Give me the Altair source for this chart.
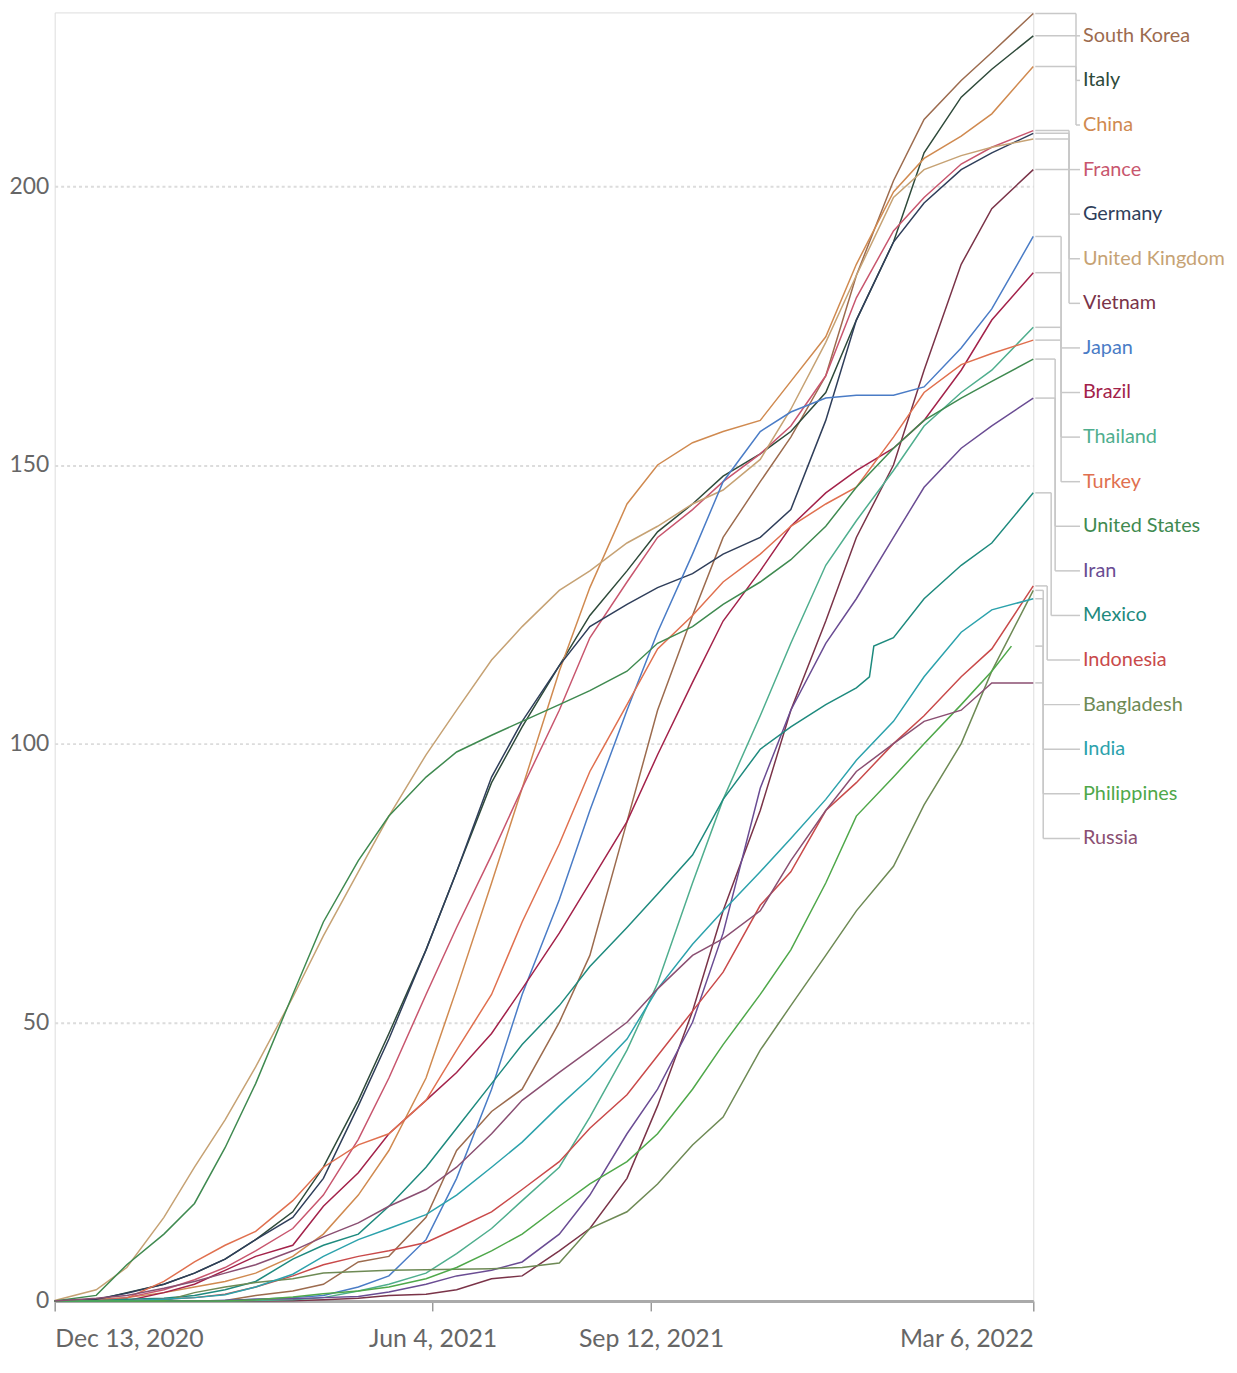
import altair as alt
import pandas as pd

# ---------------- data (doses per 100 people) ----------------
dates = ["2020-12-13", "2021-01-01", "2021-01-15", "2021-02-01", "2021-02-15", "2021-03-01",
         "2021-03-15", "2021-04-01", "2021-04-15", "2021-05-01", "2021-05-15", "2021-06-01",
         "2021-06-15", "2021-07-01", "2021-07-15", "2021-08-01", "2021-08-15", "2021-09-01",
         "2021-09-15", "2021-10-01", "2021-10-15", "2021-11-01", "2021-11-15", "2021-12-01",
         "2021-12-15", "2022-01-01", "2022-01-15", "2022-02-01", "2022-02-15", "2022-03-06"]

countries = ["South Korea", "Italy", "China", "France", "Germany", "United Kingdom", "Vietnam",
             "Japan", "Brazil", "Thailand", "Turkey", "United States", "Iran", "Mexico",
             "Indonesia", "Bangladesh", "India", "Philippines", "Russia"]

colors = ["#9C6B4E", "#2E4A3A", "#D08A50", "#C8566E", "#2F3E5A", "#C6A274", "#7A3348",
          "#4A7CC6", "#A3224A", "#4FAE8E", "#E0704F", "#3F8A50", "#6A4C93", "#1E8A7E",
          "#C94A4A", "#6E8A55", "#2CA2AC", "#4FA84A", "#8A4F72"]

south_korea = [0, 0, 0, 0, 0, 0.1, 1, 1.8, 3, 7, 8, 15, 27, 34, 38, 50, 62, 86, 106, 123, 137, 147, 155, 166, 184, 201, 212, 219, 224, 231]
italy = [0, 0.2, 1.5, 3, 5, 7.5, 11, 16, 24, 36, 48, 63, 77, 93, 103, 114, 123, 131, 138, 143, 148, 152, 156, 163, 176, 190, 206, 216, 221, 227]
china = [0, 0.3, 0.6, 1.5, 2.5, 3.5, 5, 8, 12, 19, 27, 40, 56, 75, 92, 113, 128, 143, 150, 154, 156, 158, 165, 173, 186, 199, 205, 209, 213, 221.5]
france = [0, 0.1, 0.6, 2, 3.8, 6, 9, 13, 19, 29, 40, 55, 67, 80, 92, 106, 119, 129, 137, 142, 147, 152, 157, 166, 180, 192, 198, 204, 207, 210]
germany = [0, 0.3, 1.4, 3, 5, 7.5, 11, 15, 22, 35, 47, 63, 77, 94, 104, 114, 121, 125, 128, 130.5, 134, 137, 142, 158, 176, 190, 197, 203, 206, 209.5]
united_kingdom = [0.1, 2, 6, 15, 24, 32.5, 42, 54.5, 65.5, 77, 87, 98, 106, 115, 121, 127.5, 131, 136, 139, 143, 145.5, 151, 160, 172, 184, 198, 203, 205.5, 207, 208.5]
vietnam = [0, 0, 0, 0, 0, 0, 0.01, 0.05, 0.2, 0.5, 1, 1.2, 2, 4, 4.5, 9, 13, 22, 35, 52, 70, 88, 106, 122, 137, 150, 167, 186, 196, 203]
japan = [0, 0, 0, 0, 0, 0.1, 0.3, 0.6, 1, 2.5, 4.5, 11, 22, 38, 55, 72, 88, 106, 120, 134, 147, 156, 159.5, 162, 162.5, 162.5, 164, 171, 178, 191]
brazil = [0, 0, 0.05, 1.5, 3, 5.5, 8, 10, 17, 23, 30, 36, 41, 48, 56, 66, 75, 86, 98, 111, 122, 131, 139, 145, 149, 153, 158, 167, 176, 184.5]
thailand = [0, 0, 0, 0, 0, 0.01, 0.1, 0.2, 0.6, 1.8, 3, 5, 8.5, 13, 18, 24, 33, 45, 57, 75, 90, 105, 118, 132, 140, 149, 157, 163, 167, 174.7]
turkey = [0, 0, 0.5, 3.5, 7, 10, 12.5, 18, 24, 28, 30, 36, 45, 55, 68, 82, 95, 107, 117, 123, 129, 134, 139, 143, 146, 155, 163, 168, 170, 172.4]
united_states = [0, 1, 6.5, 12, 17.5, 27.5, 39, 55, 68, 79, 87, 94, 98.5, 101.5, 104, 107, 109.5, 113, 118, 121, 125, 129, 133, 139, 146, 153, 158, 162, 165, 169]
iran = [0, 0, 0, 0, 0.01, 0.1, 0.3, 0.4, 0.6, 0.8, 1.6, 3, 4.5, 5.5, 7, 12, 19, 30, 38, 50, 66, 92, 106, 118, 126, 137, 146, 153, 157, 162]
mexico = [0, 0.02, 0.3, 0.5, 1, 2, 3.5, 7.5, 10, 12, 17, 24, 31, 39, 46, 53, 60, 67, 73, 80, 90, 99, 103, 107, 110, 119, 126, 132, 136, 145]
indonesia = [0, 0, 0.05, 0.3, 0.6, 1.2, 2.5, 4.5, 6.5, 8, 9, 10.5, 13, 16, 20, 25, 31, 37, 44, 52, 59, 71, 77, 88, 93, 100, 105, 112, 117, 128.3]
bangladesh = [0, 0, 0, 0, 1.5, 2.5, 3.3, 4, 5, 5.3, 5.5, 5.6, 5.7, 5.8, 6, 6.8, 13, 16, 21, 28, 33, 45, 53, 62, 70, 78, 89, 100, 113, 127.5]
india = [0, 0, 0.05, 0.3, 0.6, 1.1, 2.5, 4.8, 8, 11, 13, 15.5, 19, 24, 28.5, 35, 40, 47, 56, 64, 70, 77, 83, 90, 97, 104, 112, 120, 124, 126]
philippines = [0, 0, 0, 0, 0, 0, 0.2, 0.7, 1.3, 1.8, 2.5, 4, 6, 9, 12, 17, 21, 25, 30, 38, 46, 55, 63, 75, 87, 94, 100, 107, 113, None]
russia = [0, 0.5, 1, 2.3, 3.5, 5, 6.5, 9, 11.5, 14, 17, 20, 24, 30, 36, 41, 45, 50, 56, 62, 65, 70, 79, 88, 95, 100, 104, 106, 110.9, 110.9]

# extra observations between the common dates
mexico_extra_dates = ["2021-12-21", "2021-12-23"]
mexico_extra_values = [112, 117.5]
philippines_extra_dates = ["2022-02-24"]
philippines_extra_values = [117.5]

series = [south_korea, italy, china, france, germany, united_kingdom, vietnam, japan, brazil,
          thailand, turkey, united_states, iran, mexico, indonesia, bangladesh, india,
          philippines, russia]

# ---------------- build tables ----------------
rows = []
for name, vals in zip(countries, series):
    for d, v in zip(dates, vals):
        if v is not None:
            rows.append({"country": name, "date": d + "T00:00:00", "value": v})
for d, v in zip(mexico_extra_dates, mexico_extra_values):
    rows.append({"country": "Mexico", "date": d + "T00:00:00", "value": v})
for d, v in zip(philippines_extra_dates, philippines_extra_values):
    rows.append({"country": "Philippines", "date": d + "T00:00:00", "value": v})
df = pd.DataFrame(rows)

# layout of the right-hand labels (pixel geometry)
W, H = 985, 1297
YMAX = 231.2
LABEL_TOP, LABEL_STEP = 227.0, 8.0


def elbow_x(i):
    if i <= 2:
        return 1028
    if i <= 6:
        return 1021
    if i <= 10:
        return 1013
    if i <= 12:
        return 1007
    if i == 13:
        return 1003
    if i == 14:
        return 999
    return 995


label_rows, conn_rows = [], []
for i, (name, vals) in enumerate(zip(countries, series)):
    end = [v for v in vals if v is not None][-1]
    if name == "Philippines":
        end = philippines_extra_values[-1]
    ly = LABEL_TOP - LABEL_STEP * i
    vx = elbow_x(i)
    label_rows.append({"country": name, "label_y": ly})
    conn_rows.append({"x1": W + 2, "x2": vx, "y1": end, "y2": end})
    conn_rows.append({"x1": vx, "x2": vx, "y1": end, "y2": ly})
    conn_rows.append({"x1": vx, "x2": W + 47, "y1": ly, "y2": ly})
labels_df = pd.DataFrame(label_rows)
conn_df = pd.DataFrame(conn_rows)

FONT = "Lato"

color_scale = alt.Scale(domain=countries, range=colors)
y_scale = alt.Scale(domain=[0, YMAX], nice=False, zero=True)

tick_dates = [alt.DateTime(year=2020, month=12, date=13),
              alt.DateTime(year=2021, month=6, date=4),
              alt.DateTime(year=2021, month=9, date=12),
              alt.DateTime(year=2022, month=3, date=6)]

lines = alt.Chart(df).mark_line(strokeWidth=1.5, interpolate="linear").encode(
    x=alt.X("date:T",
            scale=alt.Scale(domain=[tick_dates[0], tick_dates[-1]]),
            axis=alt.Axis(values=tick_dates, format="%b %-d, %Y", labelFlush=True,
                          grid=False, tickSize=10, tickColor="#999", tickWidth=1.5,
                          domainColor="#aaa", domainWidth=3, labelPadding=16,
                          labelFontSize=25, labelColor="#666", labelFont=FONT),
            title=None),
    y=alt.Y("value:Q", scale=y_scale,
            axis=alt.Axis(values=[0, 50, 100, 150, 200], grid=True, gridDash=[3, 3],
                          gridColor="#dcdcdc", gridWidth=2, domain=False, ticks=False,
                          labelPadding=6, labelFontSize=23, labelColor="#666",
                          labelFont=FONT),
            title=None),
    color=alt.Color("country:N", scale=color_scale, legend=None),
    detail="country:N",
)

connectors = alt.Chart(conn_df).mark_rule(color="#c8c8c8", strokeWidth=1.5).encode(
    x=alt.X("x1:Q", scale=alt.Scale(domain=[0, W], nice=False, zero=False), axis=None),
    x2="x2:Q",
    y=alt.Y("y1:Q", scale=y_scale),
    y2="y2:Q",
)

labels = alt.Chart(labels_df).mark_text(align="left", baseline="middle", font=FONT,
                                        fontSize=20).encode(
    x=alt.value(W + 50),
    y=alt.Y("label_y:Q", scale=y_scale),
    text="country:N",
    color=alt.Color("country:N", scale=color_scale, legend=None),
)

chart = alt.layer(lines, connectors, labels).resolve_scale(x="independent").properties(
    width=W,
    height=H,
    padding={"left": 47, "top": 0, "right": 197, "bottom": 60},
    autosize=alt.AutoSizeParams(type="none"),
).configure_view(stroke=None).configure(background="white")

chart.save("out.html", embed_options={"renderer": "svg", "actions": False})
